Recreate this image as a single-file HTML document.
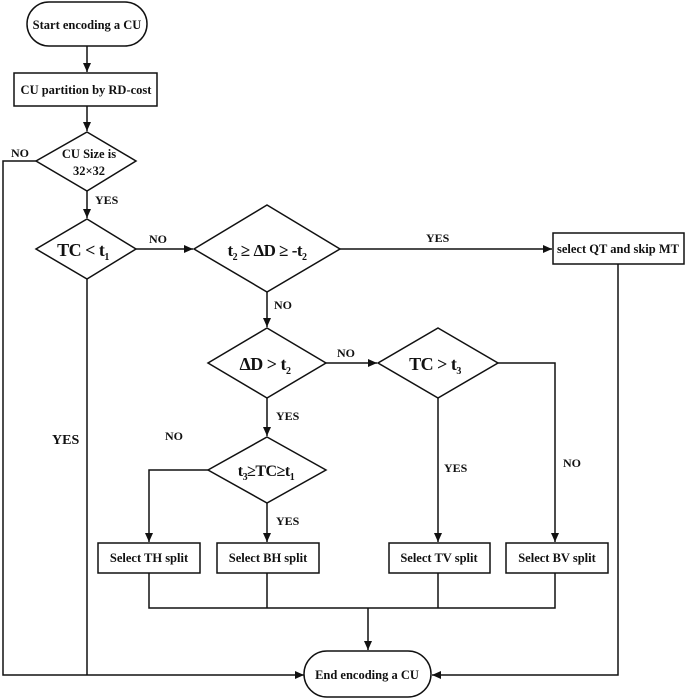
<!DOCTYPE html>
<html><head><meta charset="utf-8"><style>
html,body{margin:0;padding:0;background:#fff;}
svg{display:block;}
text{font-family:"Liberation Serif",serif;font-weight:bold;fill:#111;}
</style></head><body>
<svg width="685" height="699" viewBox="0 0 685 699" xmlns="http://www.w3.org/2000/svg">
<defs><marker id="a" markerWidth="10" markerHeight="10" refX="9" refY="5" orient="auto" markerUnits="userSpaceOnUse"><path d="M0,1 L9,5 L0,9 z" fill="#111"/></marker></defs>
<g stroke="#111" stroke-width="1.5" fill="none">
<rect x="27" y="2" width="120" height="44" rx="22"/>
<line x1="87" y1="46" x2="87" y2="72" marker-end="url(#a)"/>
<rect x="14" y="73" width="143" height="33"/>
<line x1="87" y1="106" x2="87" y2="131" marker-end="url(#a)"/>
<polygon points="87,132 136,161 87,191 36,161"/>
<polyline points="36,161 3,161 3,675 304,675" marker-end="url(#a)"/>
<line x1="87" y1="191" x2="87" y2="218" marker-end="url(#a)"/>
<polygon points="87,219 136,249 87,279 36,249"/>
<polyline points="87,279 87,675"/>
<line x1="136" y1="249" x2="193" y2="249" marker-end="url(#a)"/>
<polygon points="267,205 340,249 267,292 194,249"/>
<line x1="340" y1="249" x2="552" y2="249" marker-end="url(#a)"/>
<rect x="553" y="233" width="131" height="31"/>
<polyline points="618,264 618,675 432,675" marker-end="url(#a)"/>
<line x1="267" y1="292" x2="267" y2="327" marker-end="url(#a)"/>
<polygon points="267,328 326,363 267,398 208,363"/>
<line x1="326" y1="363" x2="377" y2="363" marker-end="url(#a)"/>
<polygon points="438,328 498,363 438,398 378,363"/>
<polyline points="498,363 555,363 555,542" marker-end="url(#a)"/>
<line x1="438" y1="398" x2="438" y2="542" marker-end="url(#a)"/>
<line x1="267" y1="398" x2="267" y2="436" marker-end="url(#a)"/>
<polygon points="267,437 326,470 267,503 208,470"/>
<polyline points="208,470 149,470 149,542" marker-end="url(#a)"/>
<line x1="267" y1="503" x2="267" y2="542" marker-end="url(#a)"/>
<rect x="98" y="543" width="102" height="30"/>
<rect x="217" y="543" width="102" height="30"/>
<rect x="389" y="543" width="101" height="30"/>
<rect x="506" y="543" width="102" height="30"/>
<polyline points="149,573 149,608 555,608 555,573"/>
<line x1="267" y1="573" x2="267" y2="608"/>
<line x1="438" y1="573" x2="438" y2="608"/>
<line x1="368" y1="608" x2="368" y2="650" marker-end="url(#a)"/>
<rect x="304" y="651" width="127" height="46" rx="23"/>
</g>
<g font-size="12.5" text-anchor="middle">
<text x="87" y="29">Start encoding a CU</text>
<text x="86" y="94">CU partition by RD-cost</text>
<text x="89" y="158">CU Size is</text>
<text x="89" y="175">32×32</text>
<text x="618" y="253">select QT and skip MT</text>
<text x="149" y="562">Select  TH split</text>
<text x="268" y="562">Select  BH split</text>
<text x="439" y="562">Select  TV split</text>
<text x="557" y="562">Select  BV split</text>
<text x="367" y="679">End encoding a CU</text>
</g>
<g font-size="12" text-anchor="start">
<text x="11" y="157">NO</text>
<text x="95" y="204">YES</text>
<text x="149" y="243">NO</text>
<text x="426" y="242">YES</text>
<text x="274" y="309">NO</text>
<text x="337" y="357">NO</text>
<text x="276" y="420">YES</text>
<text x="165" y="440">NO</text>
<text x="276" y="525">YES</text>
<text x="444" y="472">YES</text>
<text x="563" y="467">NO</text>
<text x="52" y="444" font-size="14">YES</text>
</g>
<g font-size="18" text-anchor="middle" letter-spacing="-0.5">
<text x="83" y="256">TC &lt; t<tspan font-size="10" dy="4">1</tspan></text>
<text x="267" y="256" font-size="17">t<tspan font-size="10" dy="4">2</tspan><tspan dy="-4"> ≥ ΔD ≥ -t</tspan><tspan font-size="10" dy="4">2</tspan></text>
<text x="265" y="370">ΔD &gt; t<tspan font-size="10" dy="4">2</tspan></text>
<text x="435" y="370">TC &gt; t<tspan font-size="10" dy="4">3</tspan></text>
<text x="266" y="476" font-size="16">t<tspan font-size="10" dy="4">3</tspan><tspan dy="-4">≥TC≥t</tspan><tspan font-size="10" dy="4">1</tspan></text>
</g>
</svg>
</body></html>
